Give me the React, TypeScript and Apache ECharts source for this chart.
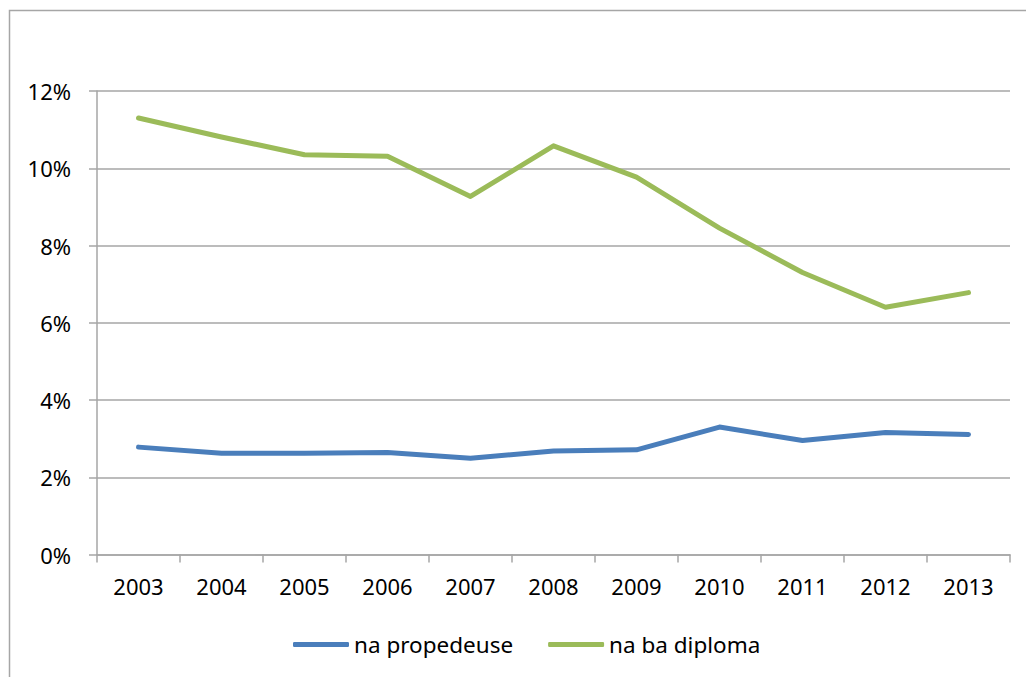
import React, { useEffect, useRef } from "react";
import * as echarts from "echarts";

const categories = ["2003", "2004", "2005", "2006", "2007", "2008", "2009", "2010", "2011", "2012", "2013"];
const propedeuse = [2.78, 2.62, 2.62, 2.64, 2.49, 2.68, 2.71, 3.3, 2.95, 3.16, 3.11];
const baDiploma = [11.3, 10.81, 10.35, 10.31, 9.27, 10.58, 9.77, 8.45, 7.3, 6.4, 6.78];
const seriesNames = ["na propedeuse", "na ba diploma"];

const FONT = "'Noto Sans', sans-serif";
const GRAY = "#A6A6A6";

export default function App() {
  const ref = useRef<HTMLDivElement>(null);
  useEffect(() => {
    if (!ref.current) return;
    const chart = echarts.init(ref.current, undefined, { renderer: "svg" });
    chart.setOption({
      animation: false,
      backgroundColor: "#fff",
      graphic: [
        {
          type: "rect",
          shape: { x: 9.5, y: 10.5, width: 1040, height: 700 },
          style: { fill: "none", stroke: GRAY, lineWidth: 1.5 },
          silent: true,
        },
      ],
      grid: { left: 97, right: 16, top: 91, bottom: 122.5, containLabel: false },
      legend: {
        left: 288,
        top: 628,
        itemWidth: 56,
        itemHeight: 5,
        itemGap: 35,
        icon: "roundRect",
        textStyle: { fontFamily: FONT, fontSize: 22.5, color: "#000" },
        data: seriesNames,
      },
      xAxis: {
        type: "category",
        data: categories,
        boundaryGap: true,
        axisLine: { show: true, lineStyle: { color: GRAY, width: 1.5 } },
        axisTick: { show: true, length: 8, alignWithLabel: false, lineStyle: { color: GRAY, width: 1.5 } },
        axisLabel: { fontFamily: FONT, fontSize: 22, color: "#000", margin: 20 },
        splitLine: { show: false },
      },
      yAxis: {
        type: "value",
        min: 0,
        max: 12,
        interval: 2,
        axisLine: { show: true, lineStyle: { color: GRAY, width: 1.5 } },
        axisTick: { show: true, length: 8, inside: false, lineStyle: { color: GRAY, width: 1.5 } },
        axisLabel: { fontFamily: FONT, fontSize: 22, color: "#000", margin: 26, formatter: "{value}%" },
        splitLine: { show: true, lineStyle: { color: GRAY, width: 1.5 } },
      },
      series: [
        {
          name: seriesNames[0],
          type: "line",
          data: propedeuse,
          showSymbol: false,
          symbol: "none",
          lineStyle: { color: "#4A7EBB", width: 5, cap: "round", join: "round" },
          itemStyle: { color: "#4A7EBB" },
        },
        {
          name: seriesNames[1],
          type: "line",
          data: baDiploma,
          showSymbol: false,
          symbol: "none",
          lineStyle: { color: "#9BBB59", width: 5, cap: "round", join: "round" },
          itemStyle: { color: "#9BBB59" },
        },
      ],
    });
    return () => chart.dispose();
  }, []);
  return (
    <div
      ref={ref}
      style={{ position: "fixed", left: 0, top: 0, width: 1026, height: 677 }}
    />
  );
}
